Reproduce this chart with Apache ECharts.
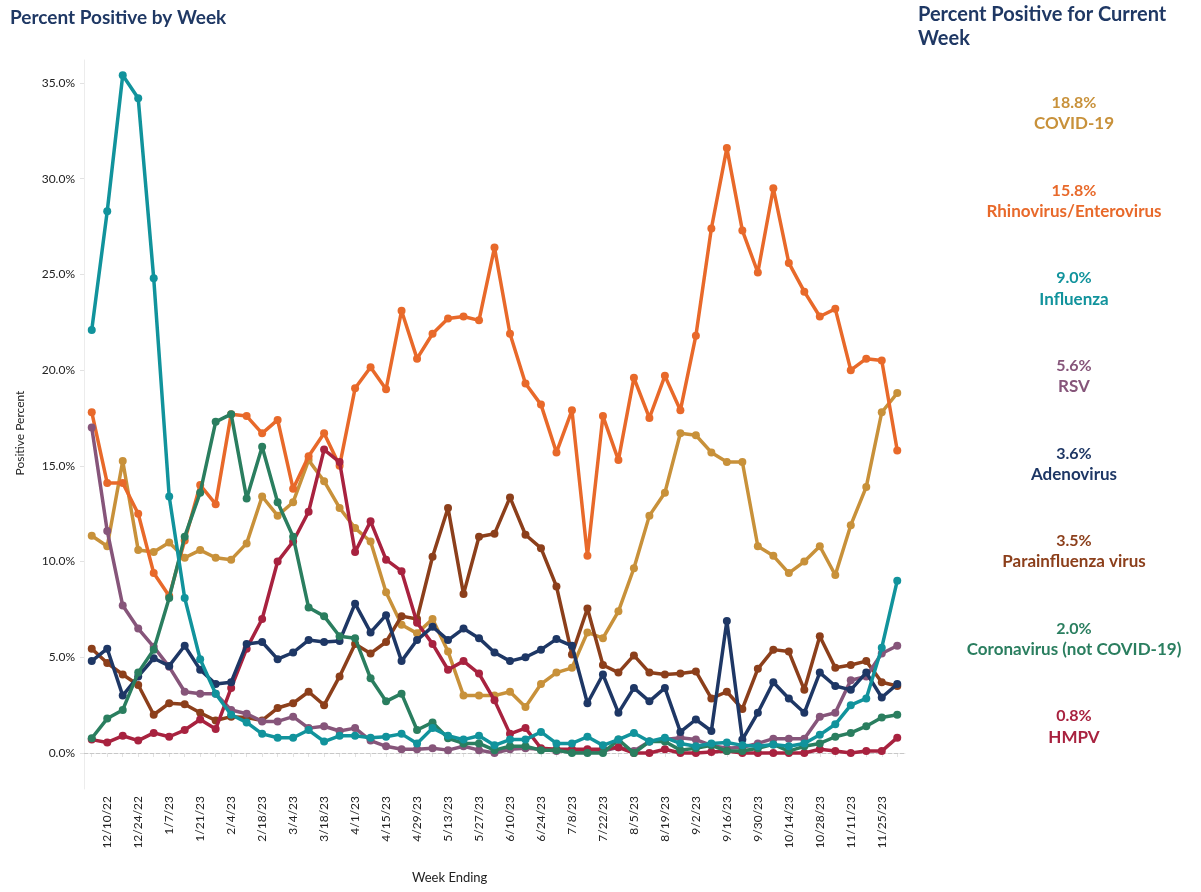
<!DOCTYPE html>
<html>
<head>
<meta charset="utf-8">
<script src="https://cdn.jsdelivr.net/npm/echarts@6/dist/echarts.min.js"></script>
<style>
    html, body { margin: 0; padding: 0; background: #fff; }
    #chart { width: 1201px; height: 892px; }
</style>
</head>
<body>
<div id="chart"></div>
<script>
// week ending dates
const weeks = [
    '12/3/22', '12/10/22', '12/17/22', '12/24/22', '12/31/22', '1/7/23', '1/14/23', '1/21/23', '1/28/23',
    '2/4/23', '2/11/23', '2/18/23', '2/25/23', '3/4/23', '3/11/23', '3/18/23', '3/25/23', '4/1/23',
    '4/8/23', '4/15/23', '4/22/23', '4/29/23', '5/6/23', '5/13/23', '5/20/23', '5/27/23', '6/3/23',
    '6/10/23', '6/17/23', '6/24/23', '7/1/23', '7/8/23', '7/15/23', '7/22/23', '7/29/23', '8/5/23',
    '8/12/23', '8/19/23', '8/26/23', '9/2/23', '9/9/23', '9/16/23', '9/23/23', '9/30/23', '10/7/23',
    '10/14/23', '10/21/23', '10/28/23', '11/4/23', '11/11/23', '11/18/23', '11/25/23', '12/2/23'
]

// percent positive per week
const covid = [11.35, 10.8, 15.25, 10.6, 10.5, 11.0, 10.2, 10.6, 10.2, 10.1, 10.95, 13.4, 12.4, 13.1, 15.3, 14.2, 12.8, 11.75, 11.05, 8.4,
    6.7, 6.25, 7.0, 5.3, 3.0, 3.0, 3.0, 3.2, 2.4, 3.6, 4.2, 4.45, 6.3, 6.0, 7.4, 9.65, 12.4, 13.6, 16.7, 16.6,
    15.7, 15.2, 15.2, 10.8, 10.3, 9.4, 10.0, 10.8, 9.3, 11.9, 13.9, 17.8, 18.8]
const rhino = [17.8, 14.1, 14.1, 12.5, 9.4, 8.2, 11.1, 14.0, 13.0, 17.7, 17.6, 16.7, 17.4, 13.8, 15.5, 16.7, 15.0, 19.05, 20.15, 19.0,
    23.1, 20.6, 21.9, 22.7, 22.8, 22.6, 26.4, 21.9, 19.3, 18.2, 15.7, 17.9, 10.3, 17.6, 15.3, 19.6, 17.5, 19.7, 17.9, 21.8,
    27.4, 31.6, 27.3, 25.1, 29.5, 25.6, 24.1, 22.8, 23.2, 20.0, 20.6, 20.5, 15.8]
const flu = [22.1, 28.3, 35.4, 34.2, 24.8, 13.4, 8.1, 4.9, 3.1, 2.0, 1.6, 1.0, 0.8, 0.8, 1.2, 0.6, 0.9, 0.9, 0.8, 0.85,
    1.0, 0.5, 1.3, 0.9, 0.7, 0.9, 0.4, 0.7, 0.7, 1.1, 0.5, 0.5, 0.85, 0.4, 0.7, 1.05, 0.6, 0.8, 0.5, 0.35,
    0.5, 0.55, 0.4, 0.35, 0.45, 0.35, 0.5, 0.95, 1.5, 2.5, 2.85, 5.5, 9.0]
const rsv = [17.0, 11.6, 7.7, 6.5, 5.55, 4.5, 3.2, 3.1, 3.1, 2.25, 2.05, 1.65, 1.65, 1.9, 1.3, 1.4, 1.15, 1.3, 0.65, 0.35,
    0.2, 0.2, 0.25, 0.15, 0.35, 0.15, 0.0, 0.2, 0.25, 0.2, 0.1, 0.1, 0.1, 0.1, 0.3, 0.1, 0.6, 0.7, 0.8, 0.7,
    0.4, 0.25, 0.3, 0.5, 0.75, 0.75, 0.75, 1.9, 2.1, 3.8, 4.0, 5.2, 5.6]
const adeno = [4.8, 5.45, 3.0, 4.0, 4.95, 4.55, 5.6, 4.35, 3.6, 3.7, 5.7, 5.8, 4.9, 5.25, 5.9, 5.8, 5.85, 7.8, 6.3, 7.2,
    4.8, 5.9, 6.6, 5.9, 6.5, 6.0, 5.25, 4.8, 5.0, 5.4, 5.95, 5.6, 2.6, 4.1, 2.1, 3.4, 2.7, 3.4, 1.1, 1.75,
    1.15, 6.9, 0.7, 2.1, 3.7, 2.85, 2.1, 4.2, 3.5, 3.3, 4.2, 2.9, 3.6]
const paraflu = [5.45, 4.7, 4.1, 3.55, 2.0, 2.6, 2.55, 2.1, 1.7, 1.9, 1.85, 1.7, 2.35, 2.6, 3.2, 2.5, 4.0, 5.7, 5.2, 5.8,
    7.15, 7.0, 10.25, 12.8, 8.3, 11.3, 11.45, 13.35, 11.4, 10.7, 8.7, 5.15, 7.55, 4.6, 4.2, 5.1, 4.2, 4.1, 4.15, 4.26,
    2.85, 3.2, 2.3, 4.4, 5.4, 5.3, 3.3, 6.1, 4.45, 4.6, 4.8, 3.7, 3.5]
const corona = [0.77, 1.8, 2.25, 4.2, 5.4, 8.1, 11.3, 13.6, 17.3, 17.7, 13.3, 16.0, 13.1, 11.3, 7.6, 7.15, 6.1, 6.0, 3.9, 2.7,
    3.1, 1.2, 1.6, 0.77, 0.5, 0.5, 0.15, 0.35, 0.35, 0.15, 0.15, 0.0, 0.0, 0.0, 0.7, 0.0, 0.6, 0.6, 0.15, 0.25,
    0.4, 0.1, 0.1, 0.25, 0.45, 0.1, 0.35, 0.5, 0.85, 1.05, 1.4, 1.85, 2.0]
const hmpv = [0.7, 0.55, 0.9, 0.65, 1.05, 0.85, 1.2, 1.75, 1.25, 3.4, 5.45, 7.0, 10.0, 11.05, 12.6, 15.85, 15.2, 10.5, 12.1, 10.1,
    9.5, 6.8, 5.7, 4.35, 4.8, 4.15, 2.75, 1.0, 1.3, 0.25, 0.2, 0.2, 0.2, 0.2, 0.3, 0.0, 0.0, 0.2, 0.0, 0.0,
    0.05, 0.1, 0.0, 0.0, 0.0, 0.0, 0.0, 0.2, 0.1, 0.0, 0.1, 0.1, 0.8]

const yTicks = [0, 5, 10, 15, 20, 25, 30, 35]

// order of the right-hand panel
const viruses = [
    { name: 'COVID-19', data: covid, color: '#C8913A' },
    { name: 'Rhinovirus/Enterovirus', data: rhino, color: '#E8692A' },
    { name: 'Influenza', data: flu, color: '#11939C' },
    { name: 'RSV', data: rsv, color: '#86557A' },
    { name: 'Adenovirus', data: adeno, color: '#1E3765' },
    { name: 'Parainfluenza virus', data: paraflu, color: '#8C3F1B' },
    { name: 'Coronavirus (not COVID-19)', data: corona, color: '#2A7E5F' },
    { name: 'HMPV', data: hmpv, color: '#A8223F' }
]
// draw order (last on top)
const drawOrder = ['COVID-19', 'Rhinovirus/Enterovirus', 'Parainfluenza virus', 'RSV', 'HMPV', 'Adenovirus', 'Coronavirus (not COVID-19)', 'Influenza']

const font = 'Lato, "Open Sans", sans-serif'
const navy = '#1F3864'

let series = drawOrder.map(function(n, k) {
    let v = viruses.find(function(x) { return x.name === n })
    let s = {
        name: v.name,
        type: 'line',
        data: v.data,
        symbol: 'circle',
        symbolSize: 8,
        showSymbol: true,
        z: 3 + k,
        lineStyle: { width: 3.5, color: v.color },
        itemStyle: { color: v.color },
        emphasis: { disabled: true }
    }
    if (k === 0) {
        s.markLine = {
            silent: true,
            symbol: 'none',
            label: { show: false },
            lineStyle: { type: 'dashed', color: '#c8c8c8', width: 1 },
            data: [{ yAxis: 0 }]
        }
    }
    return s
})

// right panel texts
let graphics = [
    { type: 'text', left: 918, top: 3, style: { text: 'Percent Positive for Current\nWeek', font: 'bold 20px ' + font, fill: navy, lineHeight: 24 } },
    { type: 'text', left: 412, top: 871, style: { text: 'Week Ending', font: '13px ' + font, fill: '#222' } },
    { type: 'text', x: 20, y: 433, rotation: Math.PI / 2, style: { text: 'Positive Percent', font: '12px ' + font, fill: '#222', align: 'center', verticalAlign: 'middle' } }
]
viruses.forEach(function(v, i) {
    let y = 103 + i * 87.6
    let last = v.data[v.data.length - 1]
    graphics.push({ type: 'text', x: 1074, y: y, style: { text: last.toFixed(1) + '%', font: 'bold 16px ' + font, fill: v.color, align: 'center', verticalAlign: 'middle' } })
    graphics.push({ type: 'text', x: 1074, y: y + 21, style: { text: v.name, font: 'bold 17px ' + font, fill: v.color, align: 'center', verticalAlign: 'middle' } })
})

let option = {
    animation: false,
    backgroundColor: '#fff',
    title: {
        text: 'Percent Positive by Week',
        left: 5,
        top: 3,
        textStyle: { fontFamily: font, fontSize: 19, fontWeight: 'bold', color: navy }
    },
    grid: { left: 84, right: 296, top: 60, bottom: 103, containLabel: false },
    xAxis: {
        type: 'category',
        data: weeks,
        boundaryGap: true,
        axisLine: { show: true, lineStyle: { color: '#e8e8e8' } },
        axisTick: { show: true, alignWithLabel: true, interval: 0, length: 4, lineStyle: { color: '#e2e2e2' } },
        axisLabel: {
            rotate: 90,
            interval: function(index) { return index % 2 === 1 },
            fontFamily: font,
            fontSize: 12,
            color: '#222',
            margin: 7
        },
        splitLine: { show: false }
    },
    yAxis: {
        type: 'value',
        min: -1.88,
        max: 36.2,
        axisLine: { show: true, lineStyle: { color: '#ececec' } },
        axisTick: { show: true, length: 4, customValues: yTicks, lineStyle: { color: '#e2e2e2' } },
        axisLabel: {
            customValues: yTicks,
            formatter: function(v) { return v.toFixed(1) + '%' },
            fontFamily: font,
            fontSize: 12,
            color: '#222',
            margin: 9
        },
        splitLine: { show: false }
    },
    graphic: graphics,
    series: series
}

var myChart = echarts.init(document.getElementById('chart'))
myChart.setOption(option)
</script>
</body>
</html>
